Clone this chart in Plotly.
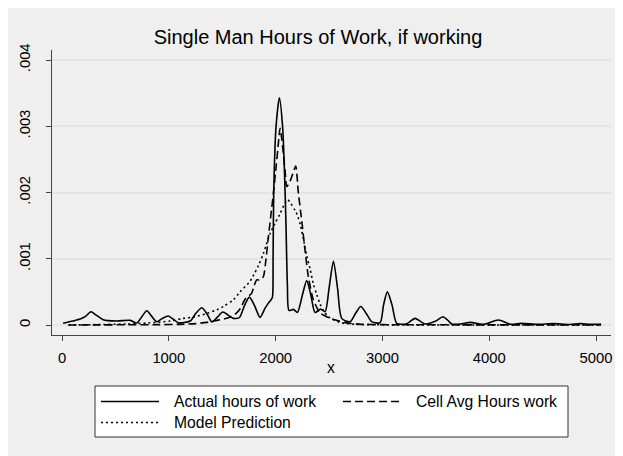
import plotly.graph_objects as go

# ---------------- data (density values, x1e-3) ----------------
actual_x = [10, 100, 170, 220, 270, 320, 385, 510, 640, 700, 745, 793, 840, 887, 940, 994,
            1040, 1087, 1200, 1255, 1309, 1360, 1403, 1455, 1505, 1555, 1602, 1660, 1710,
            1754, 1800, 1854, 1900, 1932, 1957, 1970, 1976, 1982, 2004, 2035, 2065, 2085,
            2097, 2110, 2125, 2166, 2204, 2250, 2291, 2330, 2369, 2422, 2463, 2500, 2541,
            2580, 2619, 2697, 2750, 2797, 2850, 2900, 2978, 3010, 3046, 3090, 3134, 3228,
            3305, 3399, 3500, 3565, 3620, 3649, 3750, 3820, 3950, 4085, 4200, 4300, 4450,
            4600, 4750, 4850, 4950, 5047]
actual_y = [0.025, 0.06, 0.09, 0.13, 0.20, 0.15, 0.08, 0.06, 0.07, 0.03, 0.12, 0.215, 0.13,
            0.05, 0.10, 0.135, 0.09, 0.035, 0.06, 0.18, 0.26, 0.16, 0.045, 0.12, 0.195, 0.15,
            0.10, 0.11, 0.30, 0.42, 0.30, 0.115, 0.25, 0.33, 0.38, 0.42, 1.0, 2.0, 3.0, 3.43,
            3.0, 2.2, 1.5, 0.6, 0.22, 0.236, 0.19, 0.45, 0.67, 0.45, 0.19, 0.24, 0.20, 0.55,
            0.96, 0.55, 0.10, 0.05, 0.18, 0.28, 0.17, 0.05, 0.035, 0.30, 0.50, 0.30, 0.025,
            0.02, 0.10, 0.015, 0.06, 0.125, 0.06, 0.015, 0.02, 0.04, 0.01, 0.075, 0.01, 0.025,
            0.01, 0.02, 0.008, 0.02, 0.01, 0.015]

cell_x = [60, 300, 600, 900, 1100, 1250, 1355, 1450, 1512, 1580, 1620, 1670, 1714, 1750,
          1776, 1800, 1823, 1850, 1885, 1910, 1932, 1955, 1979, 2005, 2026, 2041, 2058, 2072,
          2090, 2104, 2130, 2160, 2188, 2213, 2244, 2275, 2306, 2353, 2416, 2460, 2509, 2572,
          2640, 2697, 2800, 3000, 3500, 4000, 4500, 5047]
cell_y = [0.0, 0.002, 0.003, 0.005, 0.01, 0.02, 0.04, 0.07, 0.09, 0.12, 0.16, 0.25, 0.39,
          0.44, 0.48, 0.60, 0.68, 0.68, 0.73, 1.0, 1.33, 1.65, 1.99, 2.4, 2.75, 2.97, 2.8,
          2.59, 2.3, 2.09, 2.15, 2.28, 2.40, 1.99, 1.58, 1.13, 0.73, 0.38, 0.18, 0.14, 0.10,
          0.07, 0.04, 0.025, 0.01, 0.005, 0.003, 0.002, 0.001, 0.0]

model_x = [60, 300, 600, 800, 1011, 1136, 1230, 1350, 1449, 1512, 1604, 1667, 1760, 1792,
           1840, 1885, 1948, 1990, 2041, 2088, 2112, 2140, 2182, 2200, 2230, 2260, 2290, 2322,
           2353, 2385, 2415, 2447, 2490, 2541, 2600, 2650, 2750, 3000, 4000, 5047]
model_y = [0.0, 0.005, 0.015, 0.03, 0.06, 0.10, 0.12, 0.17, 0.23, 0.28, 0.38, 0.50, 0.66,
           0.75, 0.90, 1.08, 1.38, 1.52, 1.68, 1.84, 1.89, 1.84, 1.73, 1.67, 1.52, 1.30, 1.05,
           0.85, 0.62, 0.46, 0.32, 0.22, 0.13, 0.08, 0.04, 0.025, 0.01, 0.003, 0.0, 0.0]

x_ticks = [0, 1000, 2000, 3000, 4000, 5000]
y_ticks = [0, 0.001, 0.002, 0.003, 0.004]
y_tick_labels = ["0", ".001", ".002", ".003", ".004"]

series_names = ["Actual hours of work", "Cell Avg Hours work", "Model Prediction"]
title_text = "Single Man Hours of Work, if working"
x_title = "x"

# ---------------- layout geometry (screen px; page body adds an 8px offset) ----------------
SW, SH = 623, 456
OFF = 8
W, H = SW - OFF, SH - OFF
PL, PR, PT, PB = 52, 611, 50, 335  # plot area in screen px


def px_x(p):
    return (p - PL) / (PR - PL)


def px_y(p):
    return (PB - p) / (PB - PT)


FONT = "Arial, Liberation Sans, Helvetica, sans-serif"
DASH = "8px,4px"
DOT = "2px,3px"

fig = go.Figure()
fig.add_trace(go.Scatter(x=actual_x, y=[v / 1000 for v in actual_y], mode="lines",
                         name=series_names[0], line=dict(color="black", width=1.6,
                                                         shape="spline", smoothing=0.7)))
fig.add_trace(go.Scatter(x=cell_x, y=[v / 1000 for v in cell_y], mode="lines",
                         name=series_names[1], line=dict(color="black", width=1.6, dash=DASH,
                                                         shape="spline", smoothing=0.6)))
fig.add_trace(go.Scatter(x=model_x, y=[v / 1000 for v in model_y], mode="lines",
                         name=series_names[2], line=dict(color="black", width=1.6, dash=DOT,
                                                         shape="spline", smoothing=0.8)))

shapes = [
    # outer gray panel
    dict(type="rect", xref="paper", yref="paper", layer="below",
         x0=px_x(OFF - 2), x1=px_x(SW + 5), y0=px_y(SH + 5), y1=px_y(OFF - 2),
         fillcolor="#EFEFEF", line=dict(width=0)),
    # legend box
    dict(type="rect", xref="paper", yref="paper",
         x0=px_x(95), x1=px_x(568), y0=px_y(437), y1=px_y(386),
         fillcolor="white", line=dict(color="#333333", width=1)),
    dict(type="line", xref="paper", yref="paper", x0=px_x(101), x1=px_x(159),
         y0=px_y(401.5), y1=px_y(401.5), line=dict(color="black", width=1.6)),
    dict(type="line", xref="paper", yref="paper", x0=px_x(343), x1=px_x(400),
         y0=px_y(401.5), y1=px_y(401.5), line=dict(color="black", width=1.6, dash=DASH)),
    dict(type="line", xref="paper", yref="paper", x0=px_x(101), x1=px_x(159),
         y0=px_y(422.5), y1=px_y(422.5), line=dict(color="black", width=1.6, dash=DOT)),
]

annotations = [
    dict(text=series_names[0], xref="paper", yref="paper", x=px_x(172), y=px_y(401.5),
         xanchor="left", yanchor="middle", showarrow=False, font=dict(size=15.7, color="black")),
    dict(text=series_names[1], xref="paper", yref="paper", x=px_x(414), y=px_y(401.5),
         xanchor="left", yanchor="middle", showarrow=False, font=dict(size=15.7, color="black")),
    dict(text=series_names[2], xref="paper", yref="paper", x=px_x(172), y=px_y(422.5),
         xanchor="left", yanchor="middle", showarrow=False, font=dict(size=15.7, color="black")),
    # x-axis title placed explicitly below tick labels
    dict(text=x_title, xref="paper", yref="paper", x=px_x(331), y=px_y(367),
         xanchor="center", yanchor="middle", showarrow=False, font=dict(size=15.7, color="black")),
]

fig.update_layout(
    width=W, height=H,
    margin=dict(l=PL - OFF, r=SW - PR, t=PT - OFF, b=SH - PB, pad=0, autoexpand=False),
    paper_bgcolor="white", plot_bgcolor="white",
    font=dict(family=FONT, color="black", size=14.8),
    showlegend=False,
    title=dict(text=title_text, x=px_x(318), xref="paper", xanchor="center",
               y=1 - (37 - OFF) / H, yanchor="middle", font=dict(size=20, color="black")),
    shapes=shapes, annotations=annotations,
    xaxis=dict(range=[-94, 5140], tickvals=x_ticks, showgrid=False, zeroline=False,
               showline=True, linecolor="#444444", linewidth=1.3, ticks="outside",
               ticklen=5, tickcolor="#444444", tickwidth=1.2, ticklabelstandoff=4,
               automargin=False),
    yaxis=dict(range=[-0.000151, 0.004151], tickvals=y_ticks, ticktext=y_tick_labels,
               tickangle=-90, showgrid=True, gridcolor="#E4E4E4", gridwidth=1.5,
               zeroline=False, showline=True, linecolor="#444444", linewidth=1.3,
               ticks="outside", ticklen=5, tickcolor="#444444", tickwidth=1.2,
               ticklabelstandoff=10, automargin=False),
)

fig.write_html("out.html")
